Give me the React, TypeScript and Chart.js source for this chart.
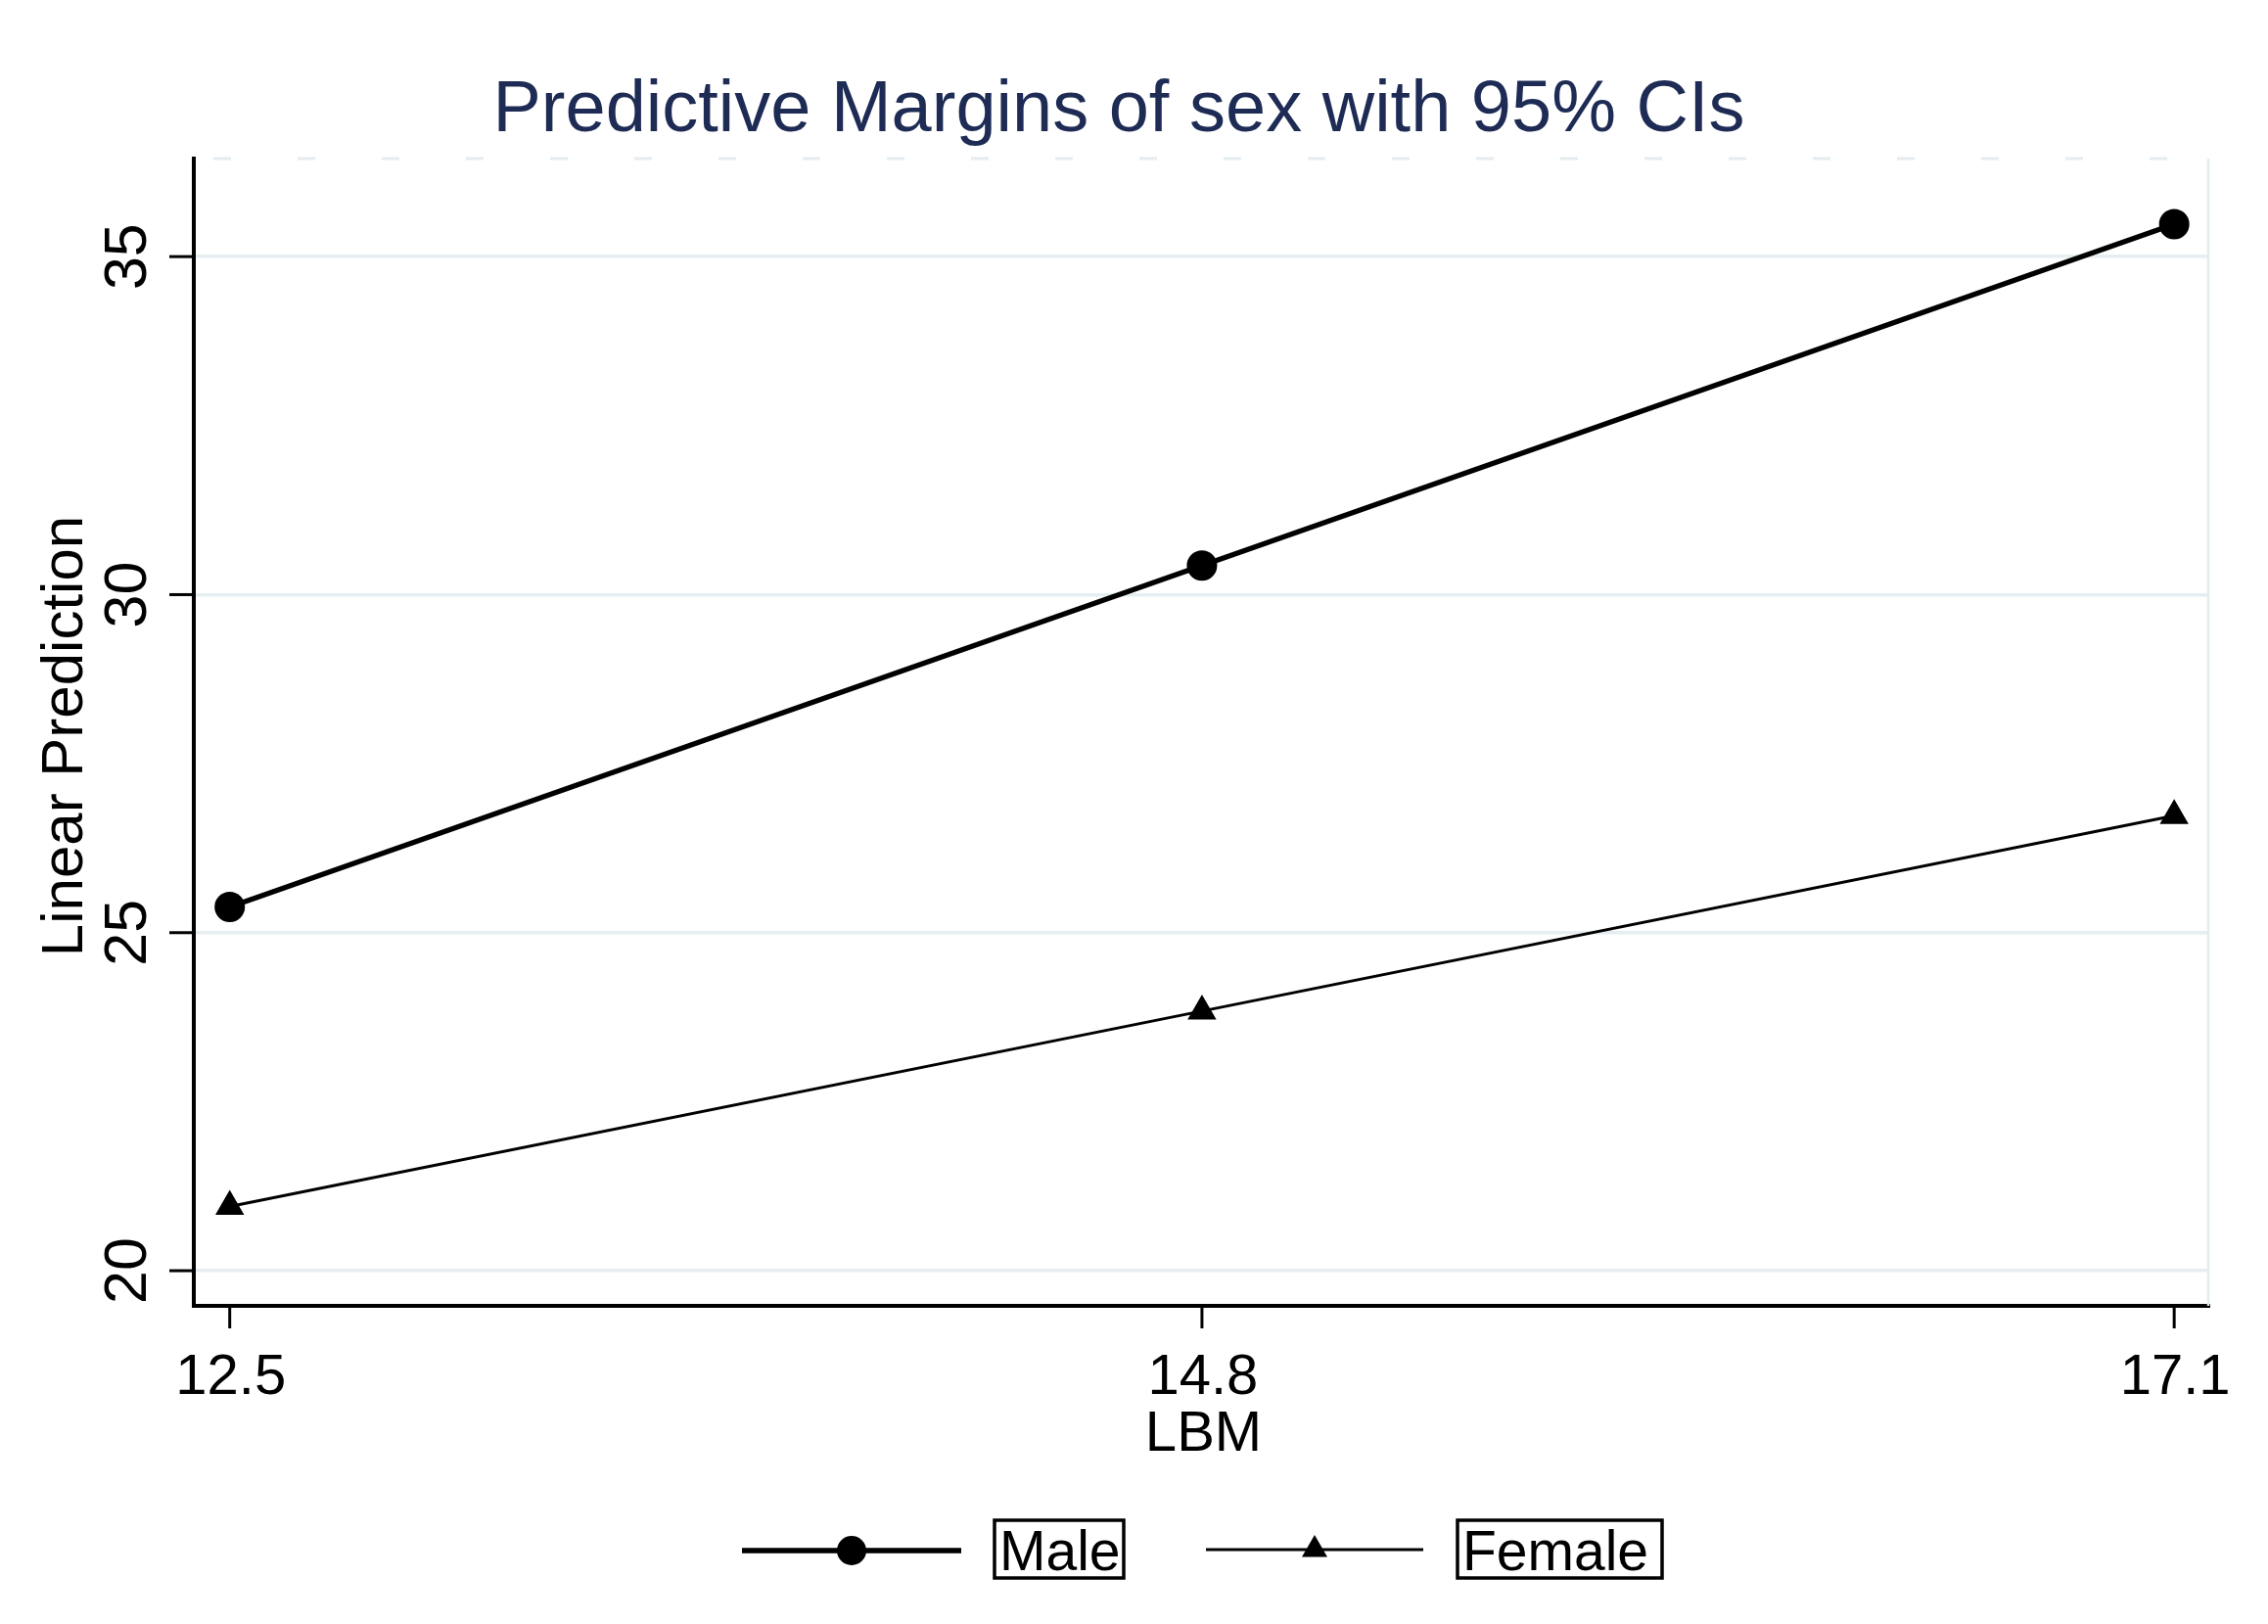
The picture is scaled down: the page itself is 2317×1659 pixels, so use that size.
import React, { useEffect, useRef } from "react";
import { Chart, registerables } from "chart.js";

Chart.register(...registerables);

const chartTitle = "Predictive Margins of sex with 95% CIs";
const xAxisTitle = "LBM";
const yAxisTitle = "Linear Prediction";
const lbmValues = [12.5, 14.8, 17.1];
const xTickLabels = ["12.5", "14.8", "17.1"];
const maleValues = [25.38, 30.43, 35.48];
const femaleValues = [20.95, 23.84, 26.73];
const yTickValues = [20, 25, 30, 35];
const seriesNames = ["Male", "Female"];

const W = 2317;
const H = 1659;
const FONT = '"Liberation Sans", Arial, sans-serif';

function drawMarker(ctx: CanvasRenderingContext2D, style: string, x: number, y: number, r: number) {
  ctx.beginPath();
  if (style === "circle") {
    ctx.arc(x, y, r, 0, Math.PI * 2);
  } else {
    ctx.moveTo(x, y - r);
    ctx.lineTo(x + r * 0.866, y + r * 0.5);
    ctx.lineTo(x - r * 0.866, y + r * 0.5);
    ctx.closePath();
  }
  ctx.fillStyle = "#000";
  ctx.fill();
}

const decor = {
  id: "stataDecor",
  beforeDatasetsDraw(chart: any) {
    const { ctx, chartArea } = chart;
    const xs = chart.scales.x;
    const ys = chart.scales.y;
    ctx.save();
    // light frame: dashed top, solid right
    ctx.strokeStyle = "#e4ecef";
    ctx.lineWidth = 3;
    ctx.setLineDash([18, 68]);
    ctx.beginPath();
    ctx.moveTo(chartArea.left + 20, chartArea.top);
    ctx.lineTo(chartArea.right, chartArea.top);
    ctx.stroke();
    ctx.setLineDash([]);
    ctx.lineWidth = 2.5;
    ctx.beginPath();
    ctx.moveTo(chartArea.right - 1, chartArea.top);
    ctx.lineTo(chartArea.right - 1, chartArea.bottom);
    ctx.stroke();
    // tick marks
    ctx.strokeStyle = "#000";
    ctx.lineWidth = 3;
    for (const v of yTickValues) {
      const y = ys.getPixelForValue(v);
      ctx.beginPath();
      ctx.moveTo(chartArea.left - 25, y);
      ctx.lineTo(chartArea.left, y);
      ctx.stroke();
    }
    for (const v of lbmValues) {
      const x = xs.getPixelForValue(v);
      ctx.beginPath();
      ctx.moveTo(x, chartArea.bottom);
      ctx.lineTo(x, chartArea.bottom + 23);
      ctx.stroke();
    }
    ctx.restore();
  },
  afterDraw(chart: any) {
    const { ctx, chartArea } = chart;
    const xs = chart.scales.x;
    const ys = chart.scales.y;
    ctx.save();
    // title
    ctx.fillStyle = "#1e2c55";
    ctx.font = `74px ${FONT}`;
    ctx.textAlign = "center";
    ctx.textBaseline = "alphabetic";
    ctx.fillText(chartTitle, 1143, 134);

    ctx.fillStyle = "#000";
    // y tick labels, rotated
    ctx.font = `61px ${FONT}`;
    for (const v of yTickValues) {
      const y = ys.getPixelForValue(v);
      ctx.save();
      ctx.translate(149, y);
      ctx.rotate(-Math.PI / 2);
      ctx.textAlign = "center";
      ctx.fillText(String(v), 0, 0);
      ctx.restore();
    }
    // y axis title
    ctx.font = `60px ${FONT}`;
    ctx.save();
    ctx.translate(84, (chartArea.top + chartArea.bottom) / 2 + 4);
    ctx.rotate(-Math.PI / 2);
    ctx.textAlign = "center";
    ctx.fillText(yAxisTitle, 0, 0);
    ctx.restore();
    // x tick labels
    ctx.font = `58px ${FONT}`;
    ctx.textAlign = "center";
    lbmValues.forEach((v, i) => {
      ctx.fillText(xTickLabels[i], xs.getPixelForValue(v) + 1, 1424);
    });
    ctx.fillText(xAxisTitle, (chartArea.left + chartArea.right) / 2 + 2, 1482);

    // legend
    ctx.font = `57px ${FONT}`;
    const ds = chart.data.datasets;
    const items = [
      { x0: 758, x1: 982, y: 1584, mx: 870, mr: 15, bx0: 1016, bx1: 1148 },
      { x0: 1232, x1: 1454, y: 1583, mx: 1343, mr: 15, bx0: 1489, bx1: 1698 },
    ];
    items.forEach((it, i) => {
      const d = ds[i];
      ctx.strokeStyle = d.borderColor;
      ctx.lineWidth = d.borderWidth;
      ctx.beginPath();
      ctx.moveTo(it.x0, it.y);
      ctx.lineTo(it.x1, it.y);
      ctx.stroke();
      drawMarker(ctx, d.pointStyle, it.mx, it.y, it.mr);
      ctx.strokeStyle = "#000";
      ctx.lineWidth = 3.5;
      ctx.strokeRect(it.bx0, 1553, it.bx1 - it.bx0, 59);
      ctx.fillStyle = "#000";
      ctx.textAlign = "left";
      ctx.fillText(d.label, it.bx0 + 5, 1604);
    });
    ctx.restore();
  },
};

export default function App() {
  const ref = useRef<HTMLCanvasElement | null>(null);
  useEffect(() => {
    if (!ref.current) return;
    const chart = new Chart(ref.current, {
      type: "line",
      data: {
        datasets: [
          {
            label: seriesNames[0],
            data: lbmValues.map((x, i) => ({ x, y: maleValues[i] })),
            borderColor: "#000",
            backgroundColor: "#000",
            borderWidth: 5.5,
            pointStyle: "circle",
            pointRadius: 15.5,
            pointBackgroundColor: "#000",
            pointBorderWidth: 0,
            tension: 0,
            clip: false,
          } as any,
          {
            label: seriesNames[1],
            data: lbmValues.map((x, i) => ({ x, y: femaleValues[i] })),
            borderColor: "#000",
            backgroundColor: "#000",
            borderWidth: 3,
            pointStyle: "triangle",
            pointRadius: 17,
            pointBackgroundColor: "#000",
            pointBorderWidth: 0,
            tension: 0,
            clip: false,
          } as any,
        ],
      },
      options: {
        animation: false,
        responsive: false,
        devicePixelRatio: 1,
        layout: { padding: { left: 198, top: 162, right: 60, bottom: 325 } },
        plugins: { legend: { display: false }, title: { display: false }, tooltip: { enabled: false } },
        scales: {
          x: {
            type: "linear",
            min: 12.415,
            max: 17.183,
            afterBuildTicks: (s: any) => {
              s.ticks = lbmValues.map((v) => ({ value: v }));
            },
            ticks: { display: false },
            grid: { display: false, drawTicks: false },
            border: { display: true, color: "#000", width: 4 },
          },
          y: {
            type: "linear",
            min: 19.48,
            max: 36.45,
            afterBuildTicks: (s: any) => {
              s.ticks = yTickValues.map((v) => ({ value: v }));
            },
            ticks: { display: false },
            grid: { display: true, color: "#e6eef1", lineWidth: 3.5, drawTicks: false },
            border: { display: true, color: "#000", width: 4 },
          },
        },
      },
      plugins: [decor],
    });
    return () => chart.destroy();
  }, []);
  return (
    <div style={{ position: "fixed", left: 0, top: 0, width: W, height: H, background: "#fff" }}>
      <canvas ref={ref} width={W} height={H} style={{ width: W, height: H, display: "block" }} />
    </div>
  );
}
